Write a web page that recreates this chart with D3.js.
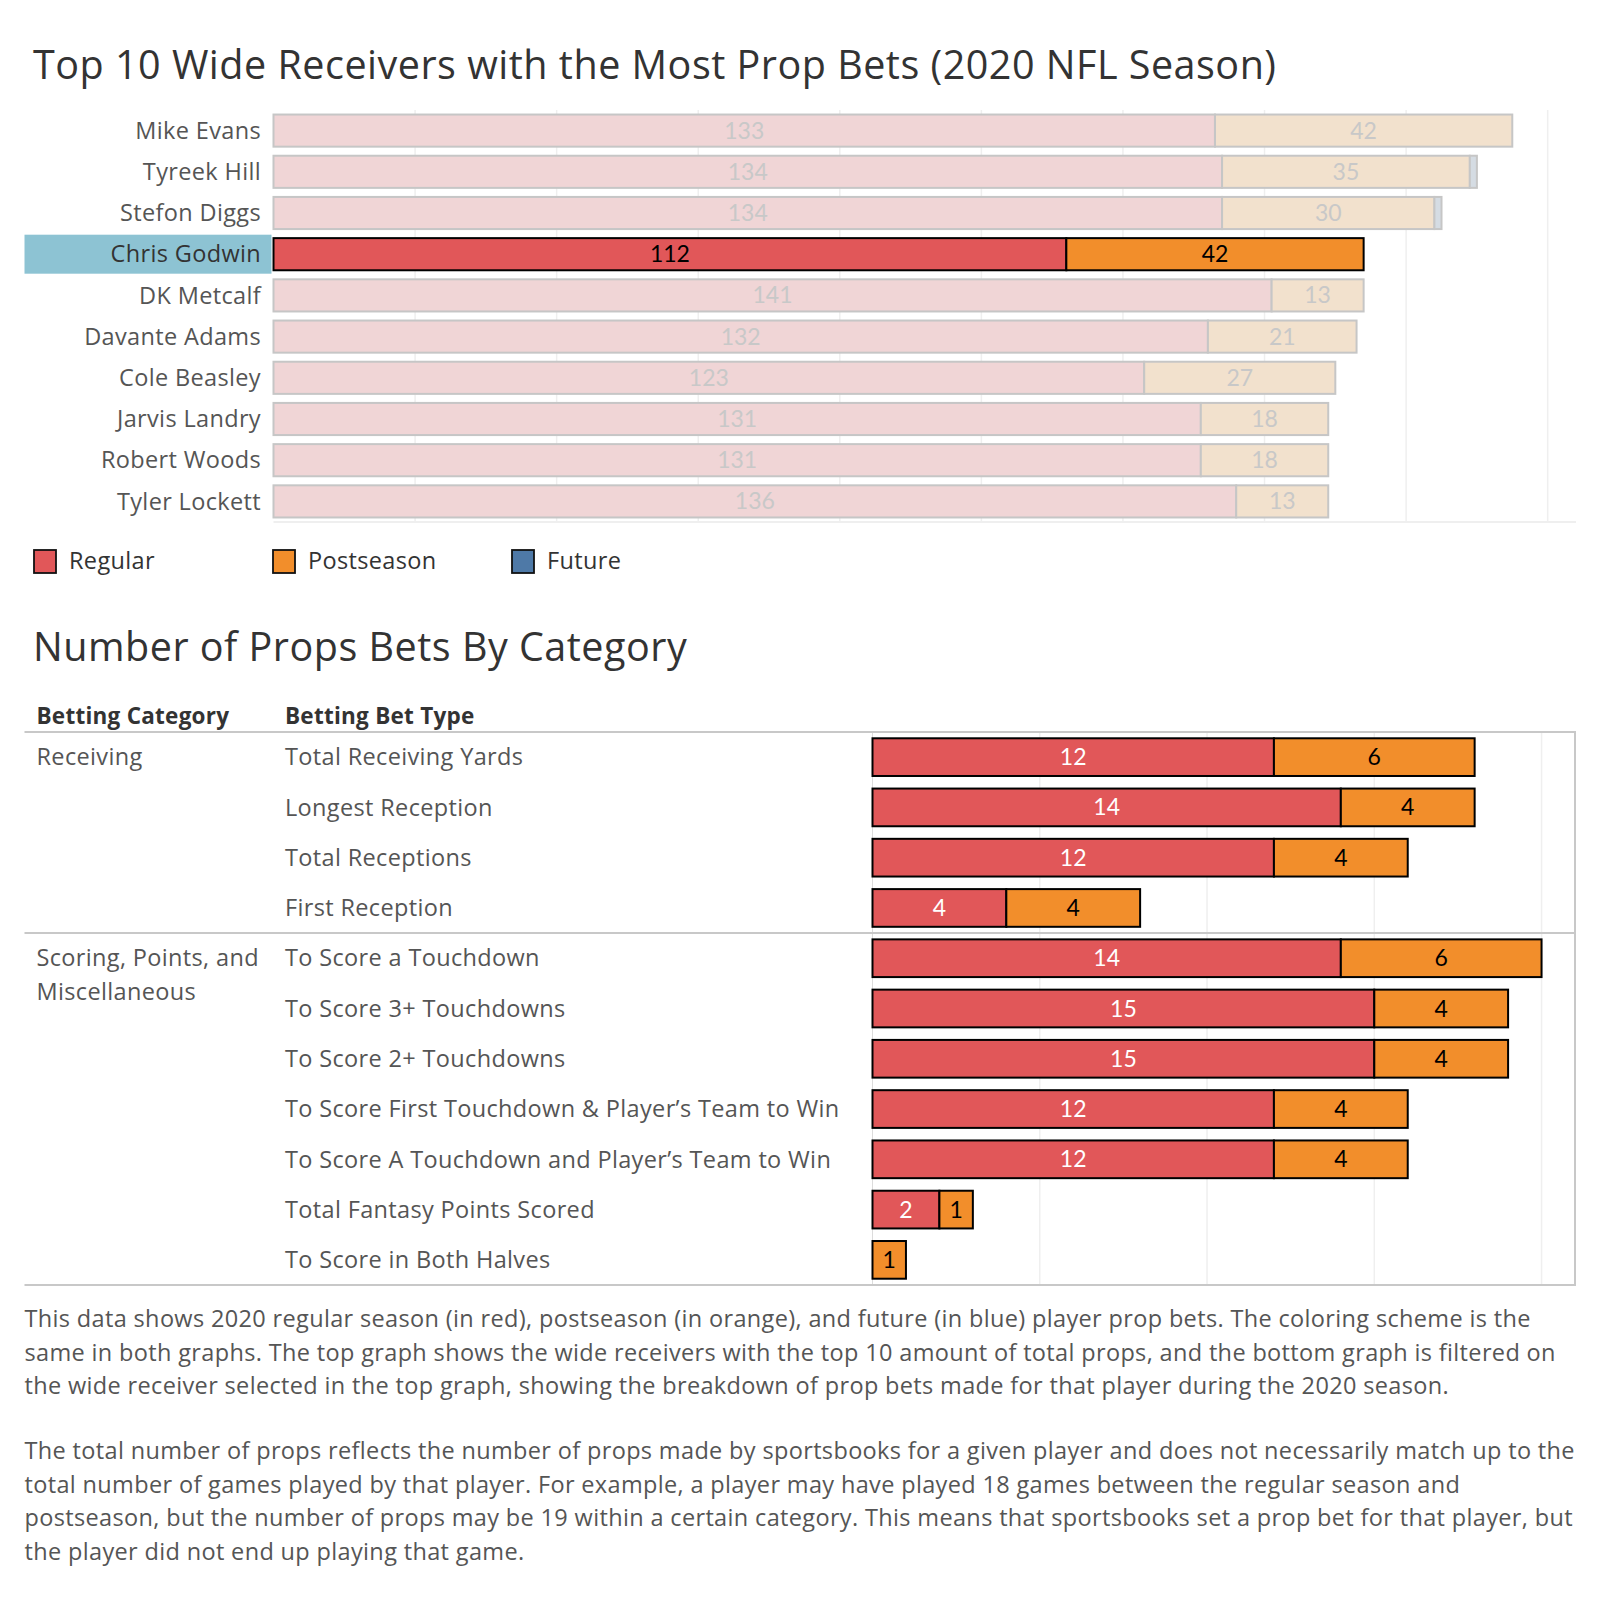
<!DOCTYPE html>
<html>
<head>
<meta charset="utf-8">
<script src="https://cdn.jsdelivr.net/npm/d3@7"></script>
<style>
  html, body { margin: 0; padding: 0; background: #fff; }
  svg { display: block; font-family: "Open Sans", Lato, sans-serif; }
</style>
</head>
<body>
<svg id="chart" width="1600" height="1600"></svg>
<script>
// ---------- Data ----------
const players = ["Mike Evans","Tyreek Hill","Stefon Diggs","Chris Godwin","DK Metcalf","Davante Adams","Cole Beasley","Jarvis Landry","Robert Woods","Tyler Lockett"];
const regularProps = [133,134,134,112,141,132,123,131,131,136];
const postseasonProps = [42,35,30,42,13,21,27,18,18,13];
const futureProps = [0,1,1,0,0,0,0,0,0,0];
const selectedPlayer = "Chris Godwin";
const topTicks = [20,40,60,80,100,120,140,160,180];

const seriesKeys = ["Regular","Postseason","Future"];

const betCategories = ["Receiving","Receiving","Receiving","Receiving",
  "Scoring, Points, and Miscellaneous","Scoring, Points, and Miscellaneous","Scoring, Points, and Miscellaneous",
  "Scoring, Points, and Miscellaneous","Scoring, Points, and Miscellaneous","Scoring, Points, and Miscellaneous",
  "Scoring, Points, and Miscellaneous"];
const betTypes = ["Total Receiving Yards","Longest Reception","Total Receptions","First Reception",
  "To Score a Touchdown","To Score 3+ Touchdowns","To Score 2+ Touchdowns",
  "To Score First Touchdown & Player’s Team to Win","To Score A Touchdown and Player’s Team to Win",
  "Total Fantasy Points Scored","To Score in Both Halves"];
const betRegular = [12,14,12,4,14,15,15,12,12,2,0];
const betPostseason = [6,4,4,4,6,4,4,4,4,1,1];
const betFuture = [0,0,0,0,0,0,0,0,0,0,0];
const bottomTicks = [5,10,15,20];

const paragraph1 = [
  "This data shows 2020 regular season (in red), postseason (in orange), and future (in blue) player prop bets. The coloring scheme is the",
  "same in both graphs. The top graph shows the wide receivers with the top 10 amount of total props, and the bottom graph is filtered on",
  "the wide receiver selected in the top graph, showing the breakdown of prop bets made for that player during the 2020 season."
];
const paragraph2 = [
  "The total number of props reflects the number of props made by sportsbooks for a given player and does not necessarily match up to the",
  "total number of games played by that player. For example, a player may have played 18 games between the regular season and",
  "postseason, but the number of props may be 19 within a certain category. This means that sportsbooks set a prop bet for that player, but",
  "the player did not end up playing that game."
];

// ---------- Styles ----------
const strongColors = {Regular: "#e15759", Postseason: "#f28e2b", Future: "#4e79a7"};
const fadedColors = {Regular: "#f0d5d6", Postseason: "#f2e1cd", Future: "#d5dce3"};
const textColor = "#555555";
const titleColor = "#333333";
const numFont = "Lato, 'Open Sans', sans-serif";
const bodySize = 23.5;
const bodySpacing = 0.35;

const svg = d3.select("#chart");

// ---------- Top chart ----------
svg.append("text")
  .attr("x", 33).attr("y", 79)
  .attr("font-size", 39.5).attr("letter-spacing", 0.5).attr("fill", titleColor)
  .text("Top 10 Wide Receivers with the Most Prop Bets (2020 NFL Season)");

const topRows = players.map((p, i) => ({name: p, Regular: regularProps[i], Postseason: postseasonProps[i], Future: futureProps[i]}));
const xTop = d3.scaleLinear().domain([0, 184]).range([273.5, 1576]);
const yTop = d3.scaleBand().domain(players).range([110, 522]).paddingInner(0.22).paddingOuter(0.11);

// gridlines
svg.append("g").selectAll("line").data(topTicks).join("line")
  .attr("x1", d => xTop(d)).attr("x2", d => xTop(d))
  .attr("y1", 110).attr("y2", 522)
  .attr("stroke", "#efefef").attr("stroke-width", 1.5);
svg.append("line").attr("x1", 273.5).attr("x2", 1576).attr("y1", 522).attr("y2", 522)
  .attr("stroke", "#efefef").attr("stroke-width", 2);

// highlight name background
svg.append("rect")
  .attr("x", 24.5).attr("y", yTop(selectedPlayer) + yTop.bandwidth()/2 - 19.5)
  .attr("width", 247).attr("height", 39)
  .attr("fill", "#8dc3d3");

// player labels
svg.append("g").selectAll("text").data(players).join("text")
  .attr("x", 261).attr("y", d => yTop(d) + yTop.bandwidth()/2)
  .attr("dy", "0.35em").attr("text-anchor", "end")
  .attr("font-size", bodySize).attr("letter-spacing", bodySpacing)
  .attr("fill", d => d === selectedPlayer ? "#333" : textColor)
  .text(d => d);

const topStack = d3.stack().keys(seriesKeys)(topRows);
const topSeg = [];
topStack.forEach(layer => layer.forEach(seg => {
  topSeg.push({key: layer.key, x0: seg[0], x1: seg[1], name: seg.data.name, value: seg.data[layer.key]});
}));
const segSorted = topSeg.filter(s => s.value > 0).sort((a,b) => (a.name === selectedPlayer) - (b.name === selectedPlayer));

svg.append("g").selectAll("rect").data(segSorted).join("rect")
  .attr("x", d => xTop(d.x0)).attr("width", d => xTop(d.x1) - xTop(d.x0))
  .attr("y", d => yTop(d.name)).attr("height", yTop.bandwidth())
  .attr("fill", d => d.name === selectedPlayer ? strongColors[d.key] : fadedColors[d.key])
  .attr("stroke", d => d.name === selectedPlayer ? "#000" : "#c6c6c6")
  .attr("stroke-width", 2);

svg.append("g").selectAll("text").data(segSorted.filter(d => d.value >= 5)).join("text")
  .attr("x", d => (xTop(d.x0) + xTop(d.x1)) / 2)
  .attr("y", d => yTop(d.name) + yTop.bandwidth()/2)
  .attr("dy", "0.35em").attr("text-anchor", "middle")
  .attr("font-size", 23).attr("font-family", numFont)
  .attr("fill", d => d.name === selectedPlayer ? "#000" : "#c8c8c8")
  .text(d => d.value);

// legend
const legendX = [33, 272, 511];
const legend = svg.append("g").selectAll("g").data(seriesKeys).join("g")
  .attr("transform", (d, i) => `translate(${legendX[i]},561)`);
legend.append("rect").attr("x", 1).attr("y", -11).attr("width", 22).attr("height", 23)
  .attr("fill", d => strongColors[d]).attr("stroke", "#111").attr("stroke-width", 1.8);
legend.append("text").attr("x", 36).attr("y", 0).attr("dy", "0.35em")
  .attr("font-size", bodySize).attr("letter-spacing", bodySpacing)
  .attr("fill", titleColor).text(d => d);

// ---------- Bottom chart ----------
svg.append("text")
  .attr("x", 33).attr("y", 661)
  .attr("font-size", 39.5).attr("letter-spacing", 0.5).attr("fill", titleColor)
  .text("Number of Props Bets By Category");

svg.append("text").attr("x", 36.5).attr("y", 716).attr("dy", "0.35em")
  .attr("font-size", 22.5).attr("letter-spacing", 0.25).attr("font-weight", "bold").attr("fill", "#333").text("Betting Category");
svg.append("text").attr("x", 285).attr("y", 716).attr("dy", "0.35em")
  .attr("font-size", 22.5).attr("letter-spacing", 0.25).attr("font-weight", "bold").attr("fill", "#333").text("Betting Bet Type");

const rowIds = betTypes.map((t, i) => i);
const xBot = d3.scaleLinear().domain([0, 21]).range([872.5, 1575]);
const yBot = d3.scaleBand().domain(rowIds).range([732, 1285]).paddingInner(0.25).paddingOuter(0.125);

// gridlines
svg.append("g").selectAll("line").data(bottomTicks).join("line")
  .attr("x1", d => xBot(d)).attr("x2", d => xBot(d))
  .attr("y1", 732).attr("y2", 1285)
  .attr("stroke", "#efefef").attr("stroke-width", 1.5);

// frame lines
svg.append("line").attr("x1", 872.5).attr("x2", 872.5).attr("y1", 732).attr("y2", 1285)
  .attr("stroke", "#dcdcdc").attr("stroke-width", 1);
svg.append("line").attr("x1", 1575).attr("x2", 1575).attr("y1", 732).attr("y2", 1285)
  .attr("stroke", "#c8c8c8").attr("stroke-width", 2);
svg.append("line").attr("x1", 24.5).attr("x2", 1576).attr("y1", 732).attr("y2", 732)
  .attr("stroke", "#c8c8c8").attr("stroke-width", 2);
svg.append("line").attr("x1", 24.5).attr("x2", 1576).attr("y1", 1285).attr("y2", 1285)
  .attr("stroke", "#c8c8c8").attr("stroke-width", 2);

// category groups
const catGroups = d3.groups(rowIds, i => betCategories[i]);
catGroups.forEach(([cat, ids], gi) => {
  const top = yBot(ids[0]) - yBot.step() * yBot.paddingInner() / 2;
  if (gi > 0) {
    svg.append("line").attr("x1", 24.5).attr("x2", 1576).attr("y1", top).attr("y2", top)
      .attr("stroke", "#c8c8c8").attr("stroke-width", 2);
  }
  const words = cat === "Scoring, Points, and Miscellaneous" ? ["Scoring, Points, and", "Miscellaneous"] : [cat];
  words.forEach((w, k) => {
    svg.append("text").attr("x", 36.5)
      .attr("y", yBot(ids[0]) + yBot.bandwidth()/2 + k * 34)
      .attr("dy", "0.35em").attr("font-size", bodySize).attr("letter-spacing", bodySpacing)
      .attr("fill", textColor).text(w);
  });
});

// bet type labels
svg.append("g").selectAll("text").data(rowIds).join("text")
  .attr("x", 285).attr("y", i => yBot(i) + yBot.bandwidth()/2)
  .attr("dy", "0.35em").attr("font-size", bodySize).attr("letter-spacing", bodySpacing)
  .attr("fill", textColor)
  .text(i => betTypes[i]);

const botRows = rowIds.map(i => ({id: i, Regular: betRegular[i], Postseason: betPostseason[i], Future: betFuture[i]}));
const botStack = d3.stack().keys(seriesKeys)(botRows);
const botSeg = [];
botStack.forEach(layer => layer.forEach(seg => {
  botSeg.push({key: layer.key, x0: seg[0], x1: seg[1], id: seg.data.id, value: seg.data[layer.key]});
}));
const botVisible = botSeg.filter(s => s.value > 0);

svg.append("g").selectAll("rect").data(botVisible).join("rect")
  .attr("x", d => xBot(d.x0)).attr("width", d => xBot(d.x1) - xBot(d.x0))
  .attr("y", d => yBot(d.id)).attr("height", yBot.bandwidth())
  .attr("fill", d => strongColors[d.key])
  .attr("stroke", "#000").attr("stroke-width", 2);

svg.append("g").selectAll("text").data(botVisible).join("text")
  .attr("x", d => (xBot(d.x0) + xBot(d.x1)) / 2)
  .attr("y", d => yBot(d.id) + yBot.bandwidth()/2)
  .attr("dy", "0.35em").attr("text-anchor", "middle")
  .attr("font-size", 23).attr("font-family", numFont)
  .attr("fill", d => d.key === "Regular" ? "#fff" : "#000")
  .text(d => d.value);

// ---------- Paragraphs ----------
svg.append("g").selectAll("text").data(paragraph1).join("text")
  .attr("x", 24.5).attr("y", (d, i) => 1319 + i * 33.5)
  .attr("dy", "0.35em").attr("font-size", bodySize).attr("letter-spacing", bodySpacing)
  .attr("fill", textColor)
  .text(d => d);
svg.append("g").selectAll("text").data(paragraph2).join("text")
  .attr("x", 24.5).attr("y", (d, i) => 1451 + i * 33.5)
  .attr("dy", "0.35em").attr("font-size", bodySize).attr("letter-spacing", bodySpacing)
  .attr("fill", textColor)
  .text(d => d);
</script>
</body>
</html>
